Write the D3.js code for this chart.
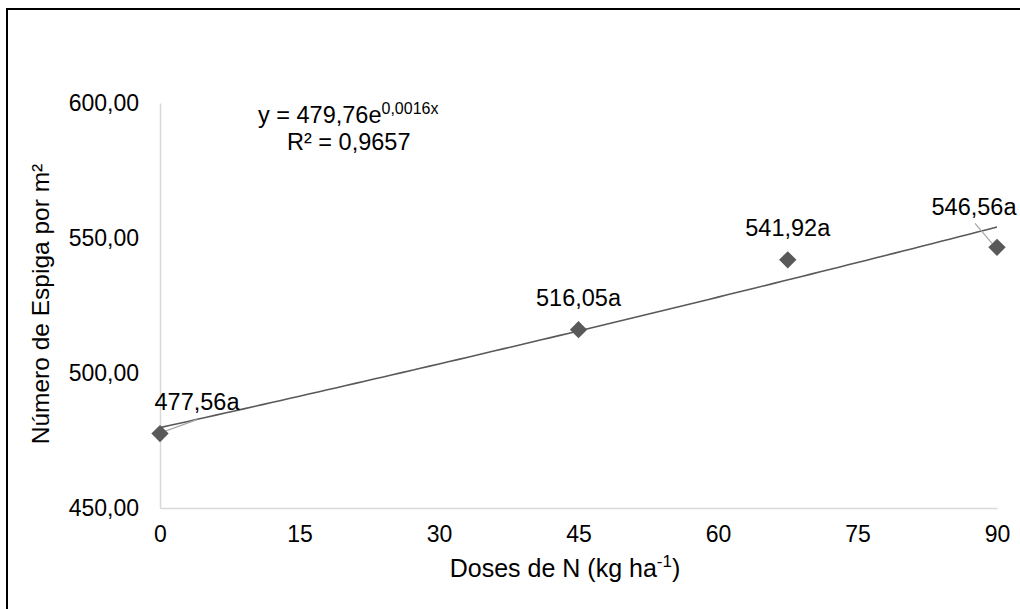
<!DOCTYPE html>
<html><head><meta charset="utf-8">
<script src="https://cdn.jsdelivr.net/npm/d3@7"></script>
<style>
html,body{margin:0;padding:0;background:#fff;}
text{font-family:"Liberation Sans",Arial,sans-serif;fill:#000;}
</style></head>
<body>
<svg id="chart" width="1020" height="609"></svg>
<script>
// ---- data ----
const doses = [0, 45, 67.5, 90];
const espigas = [477.56, 516.05, 541.92, 546.56];
const letters = ["a", "a", "a", "a"];
const xTicks = [0, 15, 30, 45, 60, 75, 90];
const yTicks = [450, 500, 550, 600];
const trendA = 479.76, trendB = 0.0016;   // y = 479,76e^(0,0016x)
const r2Text = "0,9657";

// label layout (pixel offsets from each point)
const labelDx = [37, 0, 0, -23];
const labelDy = [-24, -24, -24, -32];
const leaders = [[37, -14, 4, -2], null, null, [-22, -24, -5, -4]];

const svg = d3.select("#chart");
const W = 1020, H = 609;
const m = {left:160, right:23, top:103, bottom:101};

const loc = d3.formatLocale({decimal:",", thousands:".", grouping:[3], currency:["",""]});
const fmt2 = loc.format(".2f");

const x = d3.scaleLinear().domain([0, 90]).range([m.left, W - m.right]);
const y = d3.scaleLinear().domain([450, 600]).range([H - m.bottom, m.top]);

// outer border
svg.append("rect").attr("x", 7).attr("y", 9).attr("width", 1100).attr("height", 700)
  .attr("fill", "none").attr("stroke", "#000").attr("stroke-width", 2);

// axes
const xAxis = svg.append("g").attr("transform", `translate(0,${y(450)})`)
  .call(d3.axisBottom(x).tickValues(xTicks).tickSize(0).tickPadding(18).tickFormat(d3.format("d")));
xAxis.select(".domain").attr("stroke", "#d9d9d9").attr("stroke-width", 1.5);
xAxis.selectAll("text").attr("font-size", 23).attr("fill", "#000")
  .attr("font-family", '"Liberation Sans",Arial,sans-serif');

const yAxis = svg.append("g").attr("transform", `translate(${x(0)},0)`)
  .call(d3.axisLeft(y).tickValues(yTicks).tickSize(0).tickPadding(21).tickFormat(fmt2));
yAxis.select(".domain").attr("stroke", "#d9d9d9").attr("stroke-width", 1.5);
yAxis.selectAll("text").attr("font-size", 23).attr("fill", "#000")
  .attr("font-family", '"Liberation Sans",Arial,sans-serif');

// trendline from the regression equation
const trendXs = d3.range(0, 90.01, 1);
const line = d3.line().x(d => x(d)).y(d => y(trendA * Math.exp(trendB * d)));
svg.append("path").datum(trendXs).attr("d", line)
  .attr("fill", "none").attr("stroke", "#595959").attr("stroke-width", 1.6);

// leader lines
leaders.forEach((l, i) => {
  if (!l) return;
  svg.append("line")
    .attr("x1", x(doses[i]) + l[0]).attr("y1", y(espigas[i]) + l[1])
    .attr("x2", x(doses[i]) + l[2]).attr("y2", y(espigas[i]) + l[3])
    .attr("stroke", "#a6a6a6").attr("stroke-width", 1.2);
});

// markers
svg.selectAll("path.pt").data(doses).enter().append("path").attr("class", "pt")
  .attr("d", d3.symbol().type(d3.symbolSquare).size(150))
  .attr("transform", (d, i) => `translate(${x(d)},${y(espigas[i])}) rotate(45)`)
  .attr("fill", "#595959");

// data labels
svg.selectAll("text.lbl").data(doses).enter().append("text").attr("class", "lbl")
  .attr("x", (d, i) => x(d) + labelDx[i])
  .attr("y", (d, i) => y(espigas[i]) + labelDy[i])
  .attr("text-anchor", "middle").attr("font-size", 23.5)
  .text((d, i) => fmt2(espigas[i]) + letters[i]);

// equation
const eq = svg.append("text").attr("x", 258).attr("y", 123).attr("font-size", 23.5);
eq.append("tspan").text("y = " + loc.format(".2f")(trendA) + "e");
eq.append("tspan").attr("dy", -9).attr("font-size", 16).text(loc.format(".4f")(trendB) + "x");
svg.append("text").attr("x", 287).attr("y", 150).attr("font-size", 23.5).text("R² = " + r2Text);

// axis titles
const xt = svg.append("text").attr("x", 565).attr("y", 577).attr("text-anchor", "middle").attr("font-size", 25);
xt.append("tspan").text("Doses de N (kg ha");
xt.append("tspan").attr("dy", -10).attr("font-size", 17).text("-1");
xt.append("tspan").attr("dy", 10).text(")");

svg.append("text").attr("transform", "translate(49,304) rotate(-90)")
  .attr("text-anchor", "middle").attr("font-size", 24.5).text("Número de Espiga por m²");
</script>
</body></html>
